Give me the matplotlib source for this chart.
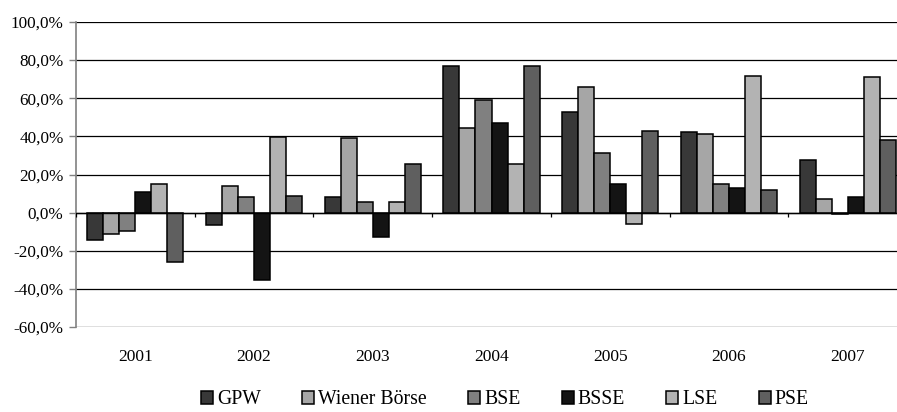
import numpy as np
import matplotlib.pyplot as plt
from matplotlib.ticker import FuncFormatter

plt.rcParams['font.family'] = ['Liberation Serif', 'DejaVu Serif']

years = ['2001', '2002', '2003', '2004', '2005', '2006', '2007']
gpw = [-14.3, -6.3, 8.4, 76.8, 52.9, 42.2, 27.8]
wiener = [-11.3, 13.9, 38.9, 44.3, 66.0, 41.0, 7.2]
bse = [-9.8, 8.1, 5.8, 59.0, 31.2, 14.9, -0.6]
bsse = [11.0, -35.3, -12.9, 47.1, 15.2, 13.1, 8.1]
lse = [15.2, 39.7, 5.8, 25.6, -6.1, 71.9, 71.2]
pse = [-25.7, 8.9, 25.6, 76.8, 43.0, 11.7, 38.3]

series = [
    ('GPW', gpw, '#383838'),
    ('Wiener Börse', wiener, '#a6a6a6'),
    ('BSE', bse, '#808080'),
    ('BSSE', bsse, '#141414'),
    ('LSE', lse, '#b3b3b3'),
    ('PSE', pse, '#5f5f5f'),
]

fig = plt.figure(figsize=(8.97, 4.12), dpi=100)
ax = fig.add_axes([76 / 897, 1 - 327 / 412, 831 / 897, 305 / 412])

x = np.arange(len(years))
w = 0.135
for i, (name, vals, col) in enumerate(series):
    ax.bar(x + (i - 2.5) * w, vals, w, color=col, edgecolor='black',
           linewidth=1.1, label=name, zorder=3)

ax.set_xlim(-0.5, len(years) - 0.5)
ax.set_ylim(-60, 100)
ax.set_yticks(np.arange(-60, 101, 20))
ax.yaxis.set_major_formatter(FuncFormatter(lambda v, p: f'{v:.1f}%'.replace('.', ',')))
ax.grid(axis='y', color='black', linewidth=0.9, zorder=0)
ax.axhline(0, color='black', linewidth=1.0, zorder=4)

# category separator ticks on the zero line
ax.vlines(np.arange(len(years) + 1) - 0.5, 0, -2.2, color='black', linewidth=0.9, zorder=4)

ax.set_xticks(x)
ax.set_xticklabels(years)
ax.tick_params(axis='x', length=0, pad=16, labelsize=12.5)
ax.tick_params(axis='y', length=5, color='#808080', width=1, pad=4, labelsize=12.3)

for s in ['top', 'right', 'bottom']:
    ax.spines[s].set_visible(False)
ax.spines['left'].set_color('#808080')
ax.spines['left'].set_linewidth(1.2)

leg = fig.legend(loc='center', bbox_to_anchor=(505 / 897, 1 - 400 / 412), ncol=6,
                 frameon=False, fontsize=14.2, handlelength=0.6, handleheight=0.6,
                 handletextpad=0.2, columnspacing=2.1, borderaxespad=0)

fig.savefig('out.png', dpi=100)
